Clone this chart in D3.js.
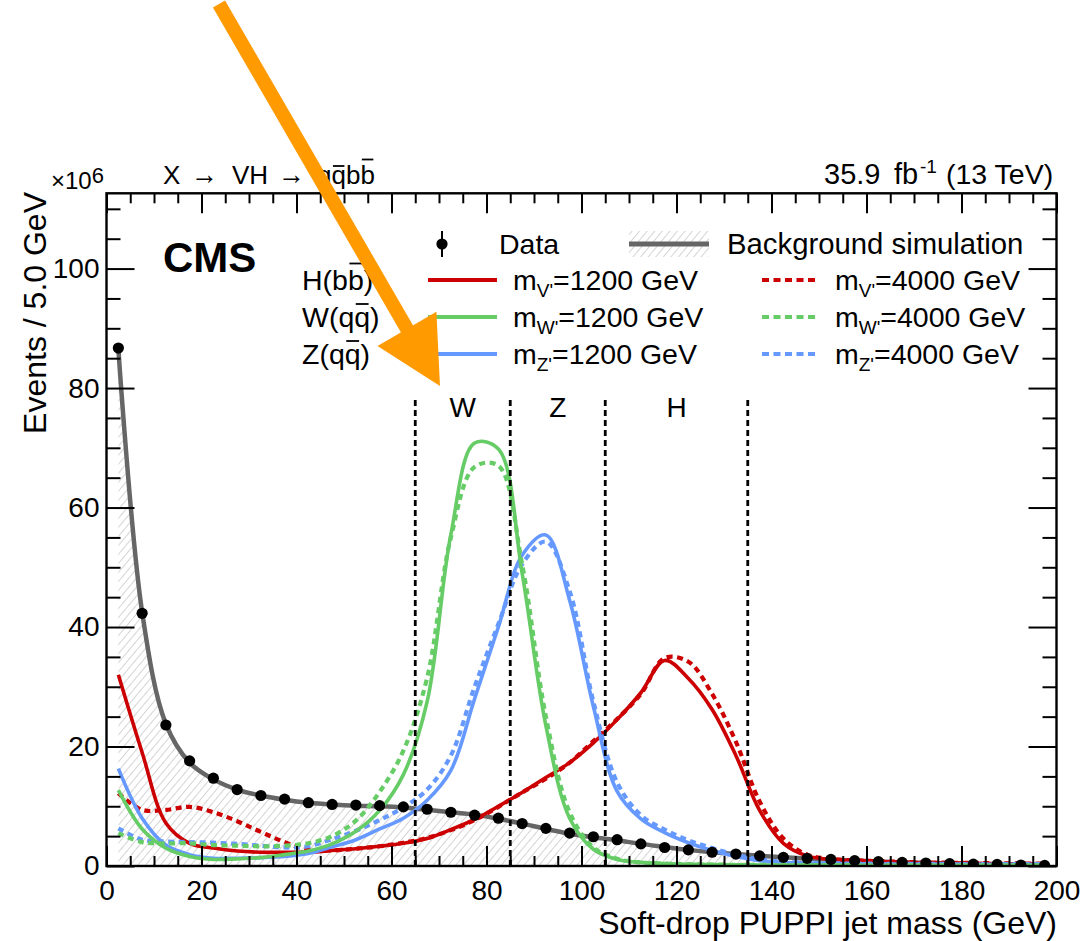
<!DOCTYPE html>
<html>
<head>
<meta charset="utf-8">
<script src="https://cdn.jsdelivr.net/npm/d3@7"></script>
<style>
  body { margin: 0; background: #ffffff; }
  svg { display: block; }
  text { font-family: "Liberation Sans", Arial, Helvetica, sans-serif; fill: #000; }
</style>
</head>
<body>
<svg id="chart" width="1086" height="941"></svg>
<script>
// ---------- data (events per 5 GeV bin, in units of 10^6) ----------
const binCenters = d3.range(2.5, 200, 5);

const dataEvents = [86.7, 42.3, 23.6, 17.6, 14.7, 12.8, 11.8, 11.2, 10.6, 10.3,
                    10.2, 10.1, 9.9, 9.5, 9.0, 8.5, 8.0, 7.1, 6.3, 5.5,
                    4.9, 4.4, 3.7, 3.1, 2.7, 2.3, 2.0, 1.7, 1.45, 1.28,
                    1.1, 0.9, 0.73, 0.6, 0.5, 0.39, 0.3, 0.26, 0.17, 0.1];

const backgroundSim = [86.5, 42.5, 23.8, 17.3, 14.5, 12.8, 11.8, 11.1, 10.6, 10.3,
                       10.1, 10.0, 9.8, 9.4, 9.0, 8.6, 7.9, 7.1, 6.2, 5.4,
                       4.8, 4.3, 3.7, 3.2, 2.7, 2.3, 2.0, 1.7, 1.45, 1.25,
                       1.05, 0.9, 0.75, 0.62, 0.5, 0.4, 0.32, 0.25, 0.18, 0.12];

const higgs1200 = [32.0, 19.0, 7.2, 3.8, 3.0, 2.5, 2.3, 2.3, 2.3, 2.6,
                   2.9, 3.3, 3.8, 4.6, 6.1, 7.8, 10.0, 12.3, 14.8, 17.3,
                   20.6, 24.5, 29.0, 34.4, 31.4, 26.2, 18.5, 9.3, 3.8, 1.7,
                   1.1, 0.9, 0.75, 0.65, 0.55, 0.5, 0.45, 0.4, 0.37, 0.35];

const higgs4000 = [12.2, 9.4, 9.4, 9.9, 9.0, 7.5, 5.7, 4.0, 2.7, 2.6,
                   2.9, 3.3, 3.9, 4.7, 6.0, 7.7, 9.9, 12.3, 14.6, 17.3,
                   20.9, 24.6, 28.8, 34.8, 34.2, 28.8, 20.8, 10.8, 4.6, 1.9,
                   1.2, 0.95, 0.8, 0.7, 0.6, 0.55, 0.5, 0.45, 0.42, 0.4];

const wboson1200 = [12.7, 6.2, 3.0, 1.6, 1.1, 1.2, 1.4, 1.9, 2.5, 3.7,
                    5.8, 9.3, 15.3, 27.5, 55.5, 70.8, 69.8, 49.0, 23.5, 8.0,
                    2.8, 1.1, 0.6, 0.4, 0.3, 0.25, 0.2, 0.18, 0.16, 0.15,
                    0.14, 0.13, 0.12, 0.12, 0.11, 0.1, 0.1, 0.1, 0.1, 0.1];

const wboson4000 = [5.5, 4.0, 3.8, 3.8, 3.5, 3.4, 3.3, 3.4, 3.8, 5.0,
                    7.6, 12.4, 19.3, 31.5, 55.0, 66.8, 67.0, 50.5, 25.0, 9.0,
                    3.1, 1.2, 0.6, 0.4, 0.3, 0.25, 0.2, 0.18, 0.16, 0.15,
                    0.14, 0.13, 0.12, 0.12, 0.11, 0.1, 0.1, 0.1, 0.1, 0.1];

const zboson1200 = [16.3, 8.0, 3.5, 1.9, 1.3, 1.3, 1.4, 1.6, 2.1, 3.2,
                    4.4, 6.2, 8.0, 11.0, 16.0, 28.0, 40.0, 52.0, 55.4, 44.5,
                    26.7, 12.5, 7.9, 5.6, 3.9, 2.6, 1.6, 0.9, 0.6, 0.5,
                    0.42, 0.38, 0.35, 0.34, 0.33, 0.32, 0.31, 0.3, 0.3, 0.3];

const zboson4000 = [6.3, 4.4, 4.1, 4.0, 3.9, 3.7, 3.4, 3.1, 3.3, 4.5,
                    5.9, 7.7, 9.8, 12.8, 18.5, 30.0, 40.5, 50.5, 54.3, 46.0,
                    27.5, 14.0, 8.5, 6.1, 4.3, 3.0, 1.9, 1.1, 0.7, 0.55,
                    0.45, 0.4, 0.38, 0.36, 0.35, 0.34, 0.33, 0.32, 0.32, 0.32];

// mass-window boundaries (GeV) and the boson tagged in each window
const windowEdges = [65, 85, 105, 135];
const windowNames = ["W", "Z", "H"];
const windowLineTop = 78;

// axis ticks
const xMajorTicks = d3.range(0, 201, 20);
const xMinorTicks = d3.range(0, 201, 5).filter(v => v % 20 !== 0);
const yMajorTicks = d3.range(0, 101, 20);
const yMinorTicks = d3.range(0, 113, 5).filter(v => v % 20 !== 0);

// ---------- series styling ----------
const red = "#cc0000", green = "#66cc66", blue = "#6699ff";
const signalSeries = [
  { values: higgs1200,  color: red,   dashed: false },
  { values: higgs4000,  color: red,   dashed: true  },
  { values: zboson1200, color: blue,  dashed: false },
  { values: zboson4000, color: blue,  dashed: true  },
  { values: wboson1200, color: green, dashed: false },
  { values: wboson4000, color: green, dashed: true  }
];

// ---------- frame & scales ----------
const svg = d3.select("#chart");
const yMax = 112.6;
const x = d3.scaleLinear().domain([0, 200]).range([106.5, 1056.5]);
const y = d3.scaleLinear().domain([0, yMax]).range([866, 193.3]);

const defs = svg.append("defs");
const hatch = defs.append("pattern")
  .attr("id", "hatch").attr("patternUnits", "userSpaceOnUse")
  .attr("width", 5.8).attr("height", 5.8)
  .attr("patternTransform", "rotate(40)");
hatch.append("line").attr("x1", 0).attr("y1", 0).attr("x2", 0).attr("y2", 5.8)
  .attr("stroke", "#b8b8b8").attr("stroke-width", 1.2);

defs.append("clipPath").attr("id", "plotClip")
  .append("rect")
  .attr("x", x(0)).attr("y", y(yMax))
  .attr("width", x(200) - x(0)).attr("height", y(0) - y(yMax));

const plot = svg.append("g").attr("clip-path", "url(#plotClip)");
const curve = d3.curveCatmullRom.alpha(0.5);

// background simulation: hatched area + line
plot.append("path")
  .datum(backgroundSim)
  .attr("fill", "url(#hatch)")
  .attr("d", d3.area().x((d, i) => x(binCenters[i])).y0(y(0)).y1(d => y(d)).curve(curve));

plot.append("path")
  .datum(backgroundSim)
  .attr("fill", "none").attr("stroke", "#666666").attr("stroke-width", 4.5)
  .attr("d", d3.line().x((d, i) => x(binCenters[i])).y(d => y(d)).curve(curve));

// signal shapes
const signalLine = d3.line().x((d, i) => x(binCenters[i])).y(d => y(d)).curve(curve);
signalSeries.forEach(s => {
  plot.append("path")
    .datum(s.values)
    .attr("fill", "none")
    .attr("stroke", s.color)
    .attr("stroke-width", s.dashed ? 4.2 : 3.6)
    .attr("stroke-dasharray", s.dashed ? "6,4.5" : null)
    .attr("d", signalLine);
});

// mass windows
plot.selectAll("line.window").data(windowEdges).enter().append("line")
  .attr("class", "window")
  .attr("x1", d => x(d)).attr("x2", d => x(d))
  .attr("y1", y(0)).attr("y2", y(windowLineTop))
  .attr("stroke", "#000").attr("stroke-width", 2.8)
  .attr("stroke-dasharray", "6,4");

svg.selectAll("text.window").data(windowNames).enter().append("text")
  .attr("class", "window")
  .attr("x", (d, i) => x((windowEdges[i] + windowEdges[i + 1]) / 2))
  .attr("y", 417)
  .attr("text-anchor", "middle")
  .attr("font-size", 28)
  .text(d => d);

// data points
plot.selectAll("circle.data").data(dataEvents).enter().append("circle")
  .attr("class", "data")
  .attr("cx", (d, i) => x(binCenters[i]))
  .attr("cy", d => y(d))
  .attr("r", 5.6)
  .attr("fill", "#000");

// ---------- axes ----------
function styleAxis(g) {
  g.select(".domain").remove();
  g.selectAll(".tick line").attr("stroke", "#000").attr("stroke-width", 2);
  g.selectAll(".tick text").attr("font-size", 28)
    .attr("font-family", "'Liberation Sans', Arial, Helvetica, sans-serif");
}

svg.append("g").attr("transform", `translate(0,${y(0)})`)
  .call(d3.axisBottom(x).tickValues(xMajorTicks).tickSize(-20).tickPadding(14).tickFormat(d3.format("d")))
  .call(styleAxis);
svg.append("g").attr("transform", `translate(0,${y(0)})`)
  .call(d3.axisBottom(x).tickValues(xMinorTicks).tickSize(-10).tickFormat(""))
  .call(styleAxis);
svg.append("g").attr("transform", `translate(0,${y(yMax)})`)
  .call(d3.axisTop(x).tickValues(xMajorTicks).tickSize(-20).tickFormat(""))
  .call(styleAxis);
svg.append("g").attr("transform", `translate(0,${y(yMax)})`)
  .call(d3.axisTop(x).tickValues(xMinorTicks).tickSize(-10).tickFormat(""))
  .call(styleAxis);

svg.append("g").attr("transform", `translate(${x(0)},0)`)
  .call(d3.axisLeft(y).tickValues(yMajorTicks).tickSize(-28).tickPadding(7).tickFormat(d3.format("d")))
  .call(styleAxis);
svg.append("g").attr("transform", `translate(${x(0)},0)`)
  .call(d3.axisLeft(y).tickValues(yMinorTicks).tickSize(-14).tickFormat(""))
  .call(styleAxis);
svg.append("g").attr("transform", `translate(${x(200)},0)`)
  .call(d3.axisRight(y).tickValues(yMajorTicks).tickSize(-28).tickFormat(""))
  .call(styleAxis);
svg.append("g").attr("transform", `translate(${x(200)},0)`)
  .call(d3.axisRight(y).tickValues(yMinorTicks).tickSize(-14).tickFormat(""))
  .call(styleAxis);

svg.append("rect")
  .attr("x", x(0)).attr("y", y(yMax))
  .attr("width", x(200) - x(0)).attr("height", y(0) - y(yMax))
  .attr("fill", "none").attr("stroke", "#000").attr("stroke-width", 2.4);

// axis titles
svg.append("text")
  .attr("x", 1057).attr("y", 934)
  .attr("text-anchor", "end").attr("font-size", 32)
  .text("Soft-drop PUPPI jet mass (GeV)");

svg.append("text")
  .attr("transform", "translate(45.5,192) rotate(-90)")
  .attr("text-anchor", "end").attr("font-size", 32)
  .text("Events / 5.0 GeV");

// exponent of the y axis
const expo = svg.append("text").attr("x", 51).attr("y", 189).attr("font-size", 24);
expo.append("tspan").text("×10");
expo.append("tspan").attr("dy", -6).attr("font-size", 22).text("6");

// overline helper: draws a bar above one character of a text element
function overline(textSel, charIndex, height) {
  const node = textSel.node();
  const s = node.getStartPositionOfChar(charIndex);
  const e = node.getEndPositionOfChar(charIndex);
  svg.append("line")
    .attr("x1", s.x + 1.5).attr("x2", e.x - 1.5)
    .attr("y1", s.y - height).attr("y2", s.y - height)
    .attr("stroke", "#000").attr("stroke-width", 1.8);
}

// process label
const proc = svg.append("g");
proc.append("text").attr("x", 163).attr("y", 183.5).attr("font-size", 26).text("X");
proc.append("text").attr("x", 191).attr("y", 184).attr("font-size", 30)
  .attr("textLength", 27).attr("lengthAdjust", "spacingAndGlyphs").text("→");
proc.append("text").attr("x", 232).attr("y", 183.5).attr("font-size", 26).text("VH");
proc.append("text").attr("x", 278).attr("y", 184).attr("font-size", 30)
  .attr("textLength", 27).attr("lengthAdjust", "spacingAndGlyphs").text("→");
const finalState = proc.append("text").attr("x", 317).attr("y", 183.5).attr("font-size", 26).text("qqbb");
overline(finalState, 1, 17.5);
overline(finalState, 3, 24);

// luminosity label
const lumi = svg.append("text").attr("y", 184).attr("font-size", 29);
lumi.append("tspan").attr("x", 824).text("35.9");
lumi.append("tspan").attr("x", 894).text("fb");
lumi.append("tspan").attr("x", 920).attr("dy", -11).attr("font-size", 19).text("-1");
lumi.append("tspan").attr("x", 946).attr("dy", 11).attr("font-size", 28.5).text("(13 TeV)");

// experiment label
svg.append("text").attr("x", 163).attr("y", 272)
  .attr("font-size", 42).attr("font-weight", "bold").text("CMS");

// ---------- legend ----------
const legendFont = 28.5;
const rowY = [244, 280, 317, 354];

// data entry
svg.append("line").attr("x1", 442).attr("x2", 442).attr("y1", rowY[0] - 13).attr("y2", rowY[0] + 13)
  .attr("stroke", "#000").attr("stroke-width", 2);
svg.append("circle").attr("cx", 442).attr("cy", rowY[0]).attr("r", 5.6).attr("fill", "#000");
svg.append("text").attr("x", 499).attr("y", rowY[0] + 10).attr("font-size", legendFont).text("Data");

// background entry
svg.append("rect").attr("x", 629).attr("y", rowY[0] - 13).attr("width", 80).attr("height", 26)
  .attr("fill", "url(#hatch)");
svg.append("line").attr("x1", 629).attr("x2", 709).attr("y1", rowY[0]).attr("y2", rowY[0])
  .attr("stroke", "#666666").attr("stroke-width", 5);
svg.append("text").attr("x", 727).attr("y", rowY[0] + 10).attr("font-size", 29.3)
  .text("Background simulation");

// signal entries
const legendRows = [
  { label: "H(bb)", barChar: 3, barHeight: 26.5, sub: "V'", color: red },
  { label: "W(qq)", barChar: 3, barHeight: 23,   sub: "W'", color: green },
  { label: "Z(qq)", barChar: 3, barHeight: 23,   sub: "Z'", color: blue }
];
const massLabels = ["1200", "4000"];

legendRows.forEach((r, i) => {
  const cy = rowY[i + 1];
  const lab = svg.append("text").attr("x", 302).attr("y", cy + 10)
    .attr("font-size", legendFont).text(r.label);
  overline(lab, r.barChar, r.barHeight);

  svg.append("line").attr("x1", 428).attr("x2", 497).attr("y1", cy).attr("y2", cy)
    .attr("stroke", r.color).attr("stroke-width", 4);
  svg.append("line").attr("x1", 762).attr("x2", 818).attr("y1", cy).attr("y2", cy)
    .attr("stroke", r.color).attr("stroke-width", 4).attr("stroke-dasharray", "7,4.5");

  [513, 835].forEach((tx, k) => {
    const t = svg.append("text").attr("x", tx).attr("y", cy + 10).attr("font-size", legendFont);
    t.append("tspan").text("m");
    t.append("tspan").attr("dy", 7).attr("font-size", 19).text(r.sub);
    t.append("tspan").attr("dy", -7).text("=" + massLabels[k] + " GeV");
  });
});

// ---------- highlight arrow pointing at the W window ----------
(function drawArrow() {
  const start = [219, 4], tip = [440, 386];
  const dx = tip[0] - start[0], dy = tip[1] - start[1];
  const len = Math.hypot(dx, dy);
  const ux = dx / len, uy = dy / len, nx = uy, ny = -ux;
  const headLen = 66, headHalf = 34;
  const base = [tip[0] - headLen * ux, tip[1] - headLen * uy];
  const g = svg.append("g");
  g.append("line")
    .attr("x1", start[0]).attr("y1", start[1])
    .attr("x2", base[0] + 4 * ux).attr("y2", base[1] + 4 * uy)
    .attr("stroke", "#ff9a00").attr("stroke-width", 14);
  g.append("polygon")
    .attr("points", [
      tip,
      [base[0] + headHalf * nx, base[1] + headHalf * ny],
      [base[0] - headHalf * nx, base[1] - headHalf * ny]
    ].map(p => p.join(",")).join(" "))
    .attr("fill", "#ff9a00");
})();
</script>
</body>
</html>
